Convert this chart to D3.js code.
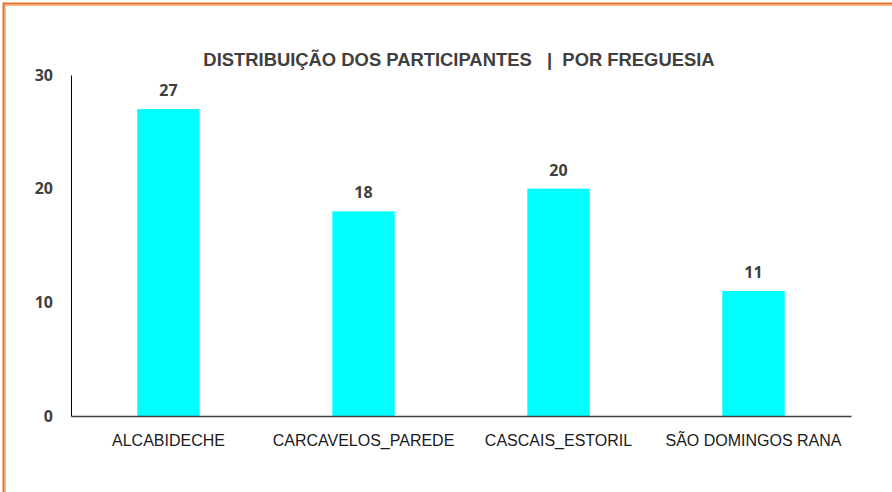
<!DOCTYPE html>
<html>
<head>
<meta charset="utf-8">
<script src="https://cdn.jsdelivr.net/npm/d3@7"></script>
<style>
  body { margin: 0; background: #fff; }
  svg { display: block; }
</style>
</head>
<body>
<div class="chartContainer"></div>
<script>
var categories = ["ALCABIDECHE", "CARCAVELOS_PAREDE", "CASCAIS_ESTORIL", "SÃO DOMINGOS RANA"];
var values = [27, 18, 20, 11];
var yTicks = [0, 10, 20, 30];
var title = "DISTRIBUIÇÃO DOS PARTICIPANTES   |  POR FREGUESIA";

var width = 892;
var height = 492;
var margin = {top: 75, right: 41, bottom: 76, left: 71};
var font = "'Liberation Sans Narrow', 'Arial Narrow', 'Liberation Sans', sans-serif";

var svg = d3.select(".chartContainer")
  .append("svg")
    .attr("width", width)
    .attr("height", height);

// orange frame (double line, only top and left show)
svg.append("rect")
    .attr("x", 4).attr("y", 4)
    .attr("width", width + 20).attr("height", height + 20)
    .style("fill", "none")
    .style("stroke", "#e8712a")
    .style("stroke-width", 3);
svg.append("rect")
    .attr("x", 4.5).attr("y", 4.5)
    .attr("width", width + 20).attr("height", height + 20)
    .style("fill", "none")
    .style("stroke", "#f7a66a")
    .style("stroke-width", 1);

var x = d3.scaleBand()
    .domain(categories)
    .range([margin.left, width - margin.right])
    .paddingInner(0.68)
    .paddingOuter(0.34);

var y = d3.scaleLinear()
    .domain([0, 30])
    .range([height - margin.bottom, margin.top]);

// title
svg.append("text")
    .attr("x", 459)
    .attr("y", 66)
    .attr("text-anchor", "middle")
    .style("font-family", font)
    .style("font-weight", "bold")
    .style("font-size", "18.4px")
    .style("fill", "#404040")
    .style("white-space", "pre")
    .attr("xml:space", "preserve")
    .text(title);

// y axis
var yAxis = svg.append("g")
    .attr("transform", "translate(" + margin.left + ",0)")
    .call(d3.axisLeft(y).tickValues(yTicks).tickSize(0).tickPadding(18));
yAxis.select(".domain").style("stroke", "#000").style("stroke-width", 1);
yAxis.selectAll("text")
    .style("font-family", "'Open Sans', sans-serif")
    .style("font-weight", "bold")
    .style("font-size", "16px")
    .style("fill", "#404040");

// bars
svg.selectAll(".bar")
    .data(values)
  .enter().append("rect")
    .attr("class", "bar")
    .attr("x", function(d, i) { return x(categories[i]); })
    .attr("y", function(d) { return y(d); })
    .attr("width", x.bandwidth())
    .attr("height", function(d) { return y(0) - y(d); })
    .style("fill", "#00ffff");

// x axis
var xAxis = svg.append("g")
    .attr("transform", "translate(0," + y(0) + ")")
    .call(d3.axisBottom(x).tickSize(0).tickPadding(19));
xAxis.select(".domain").style("stroke", "#404040").style("stroke-width", 1.3);
xAxis.selectAll("text")
    .style("font-family", font)
    .style("font-size", "16px")
    .style("fill", "#1a1a1a");

// value labels
svg.selectAll(".valueLabel")
    .data(values)
  .enter().append("text")
    .attr("class", "valueLabel")
    .attr("x", function(d, i) { return x(categories[i]) + x.bandwidth() / 2; })
    .attr("y", function(d) { return y(d) - 13; })
    .attr("text-anchor", "middle")
    .style("font-family", "'Open Sans', sans-serif")
    .style("font-weight", "bold")
    .style("font-size", "16px")
    .style("fill", "#404040")
    .text(function(d) { return d; });
</script>
</body>
</html>
